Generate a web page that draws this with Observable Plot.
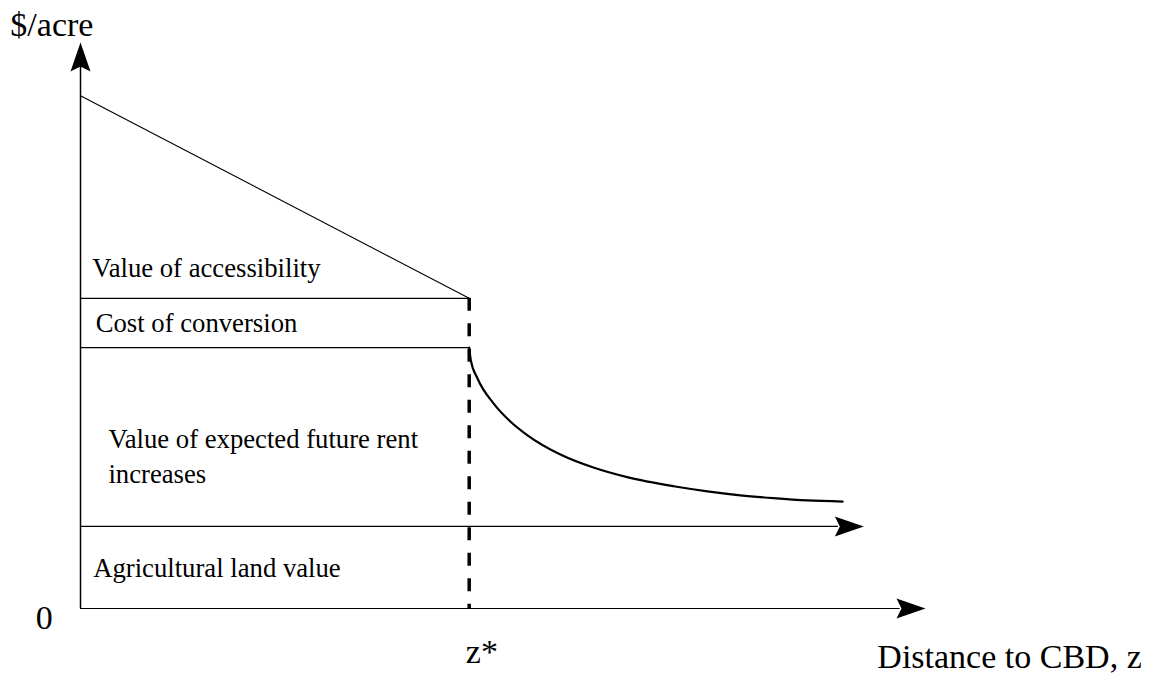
<!DOCTYPE html>
<html>
<head>
<meta charset="utf-8">
<script src="https://cdn.jsdelivr.net/npm/d3@7"></script>
<script src="https://cdn.jsdelivr.net/npm/@observablehq/plot@0.6"></script>
<style>
  html, body { margin: 0; padding: 0; background: #fff; }
  #chart svg { display: block; }
  #chart svg text { font-family: "Liberation Serif", "Times New Roman", serif; }
</style>
</head>
<body>
<div id="chart"></div>
<script>
// ---- Diagram values (distance z on x, $/acre on y) ----
const zStar = 4.6;            // conversion distance z*
const xAxisEnd = 10;          // tip of the distance axis
const rentAxisEnd = 9.27;     // tip of the agricultural-value arrow
const yAxisTop = 100;         // tip of the $/acre axis
const agriValue = 14.5;       // agricultural land value
const conversionLevel = 46.1; // agri + value of expected future rent increases
const accessLevel = 54.8;     // + cost of conversion
const rentAtCBD = 90.6;       // land value at the CBD (z = 0)

// land value beyond z* (value of expected future rent increases decaying)
const curveZ = [4.60, 4.62, 4.70, 4.89, 5.09, 5.29, 5.68, 6.07, 6.47, 7.02, 7.42, 7.81, 8.20, 8.60, 9.02];
const curveV = [46.1, 43.8, 40.6, 36.2, 33.0, 30.6, 27.2, 24.9, 23.2, 21.6, 20.7, 20.0, 19.5, 19.1, 18.9];

// region labels (baseline positions)
const regionLabels = ["Value of accessibility", "Cost of conversion", "Value of expected future rent", "increases", "Agricultural land value"];
const regionLabelZ = [0.14, 0.18, 0.33, 0.33, 0.15];
const regionLabelV = [58.5, 48.8, 28.3, 22.1, 5.5];

// axis texts
const axisTexts = ["$/acre", "0", "z*", "Distance to CBD, z"];
const axisTextZ = [-0.83, -0.43, 4.56, 9.43];
const axisTextV = [101.2, -3.7, -9.7, -10.6];
const axisTextAnchor = ["start", "middle", "start", "start"];

// ---- tables built from the arrays ----
const curve = curveZ.map((z, i) => ({z, v: curveV[i]}));
const regions = regionLabels.map((t, i) => ({t, z: regionLabelZ[i], v: regionLabelV[i]}));
const axisLabs = axisTexts.map((t, i) => ({t, z: axisTextZ[i], v: axisTextV[i], a: axisTextAnchor[i]}));
const arrowTips = [
  {z: 0, v: yAxisTop, r: 0},
  {z: xAxisEnd, v: 0, r: 90},
  {z: rentAxisEnd, v: agriValue, r: 90}
];

// notched filled arrowhead, tip at the origin pointing up
const stealth = {
  draw(ctx) {
    ctx.moveTo(0, 0);
    ctx.lineTo(-10, 29);
    ctx.lineTo(0, 24);
    ctx.lineTo(10, 29);
    ctx.closePath();
  }
};

const serif = "Liberation Serif";

const chart = Plot.plot({
  width: 1155,
  height: 674,
  margin: 0,
  style: {fontFamily: "'Liberation Serif', 'Times New Roman', serif", background: "#fff", color: "#000"},
  x: {domain: [0, 10], range: [80, 925], axis: null},
  y: {domain: [0, 100], range: [608, 42], axis: null},
  marks: [
    // axes
    Plot.ruleX([0], {y1: 0, y2: yAxisTop - 4, stroke: "#000", strokeWidth: 1.5}),
    Plot.ruleY([0], {x1: 0, x2: xAxisEnd - 0.3, stroke: "#000", strokeWidth: 1.2}),
    Plot.ruleY([agriValue], {x1: 0, x2: rentAxisEnd - 0.3, stroke: "#000", strokeWidth: 1.2}),
    // horizontal bands up to z*
    Plot.ruleY([conversionLevel], {x1: 0, x2: zStar, stroke: "#000", strokeWidth: 1.2}),
    Plot.ruleY([accessLevel], {x1: 0, x2: zStar, stroke: "#000", strokeWidth: 1.2}),
    // bid rent line from CBD to z*
    Plot.line([{z: 0, v: rentAtCBD}, {z: zStar, v: accessLevel}], {x: "z", y: "v", stroke: "#000", strokeWidth: 1.1}),
    // dashed z* line
    Plot.ruleX([zStar], {y1: accessLevel, y2: 0, stroke: "#000", strokeWidth: 3.5, strokeDasharray: "13,12.5"}),
    // decaying land value curve
    Plot.line(curve, {x: "z", y: "v", curve: "monotone-x", stroke: "#000", strokeWidth: 2.2}),
    // arrowheads
    Plot.dot(arrowTips, {x: "z", y: "v", rotate: "r", symbol: stealth, fill: "#000", stroke: "none"}),
    // labels
    Plot.text(regions, {x: "z", y: "v", text: "t", textAnchor: "start", lineAnchor: "bottom", fontSize: 26.7, fontFamily: serif, fill: "#000"}),
    Plot.text(axisLabs.filter(d => d.a === "start"), {x: "z", y: "v", text: "t", textAnchor: "start", lineAnchor: "bottom", fontSize: 34, fontFamily: serif, fill: "#000"}),
    Plot.text(axisLabs.filter(d => d.a === "middle"), {x: "z", y: "v", text: "t", textAnchor: "middle", lineAnchor: "bottom", fontSize: 34, fontFamily: serif, fill: "#000"})
  ]
});
document.getElementById("chart").append(chart);
</script>
</body>
</html>
